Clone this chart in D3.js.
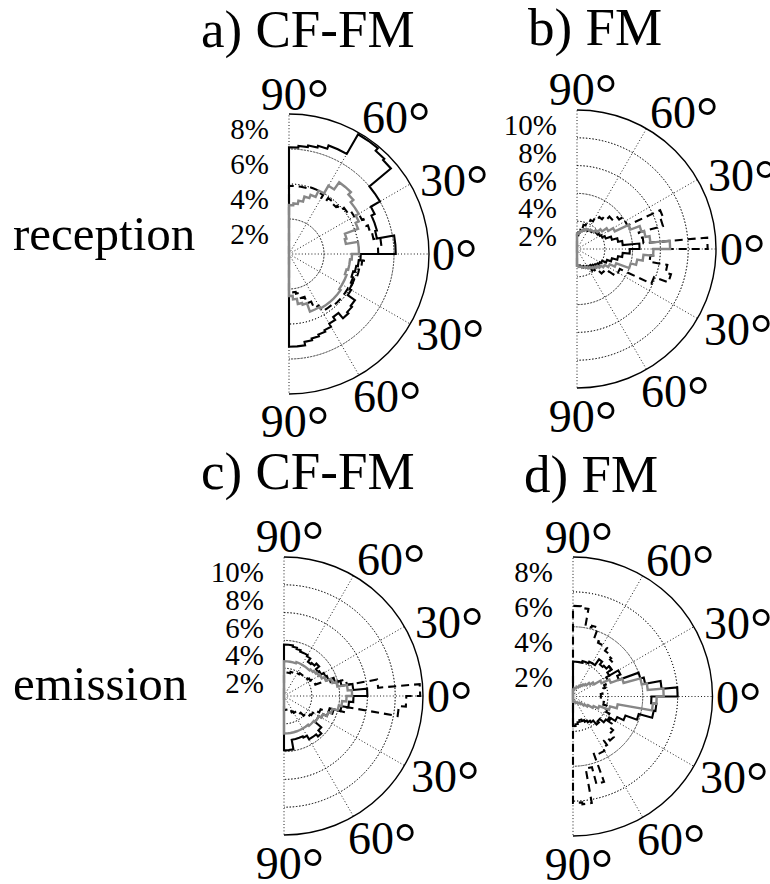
<!DOCTYPE html>
<html>
<head>
<meta charset="utf-8">
<script src="https://cdn.jsdelivr.net/npm/d3@7"></script>
<style>
  body { margin: 0; background: #fff; }
</style>
</head>
<body>
<div class="box"></div>
<script>
// DATA (percent per 5 deg bin, from +90 down to -90)

const binEdges = d3.range(90, -91, -5);
const ringTicks8 = [2, 4, 6, 8];
const ringTicks10 = [2, 4, 6, 8, 10];
const angleTicks = [90, 60, 30, 0, -30, -60, -90];

// a) CF-FM reception
const aSolid = [6.1, 6.2, 6.3, 6.4, 6.6, 6.6, 7.9, 7.9, 7.7, 7.6, 6.0, 6.0, 5.4, 5.2, 5.2, 5.1, 6.1, 6.1,
                4.1, 4.0, 3.9, 3.8, 3.9, 4.0, 4.1, 4.6, 4.7, 4.8, 4.4, 4.6, 4.8, 4.9, 5.0, 5.1, 5.3, 5.3];
const aDash  = [3.9, 3.9, 3.9, 4.0, 4.0, 3.9, 3.7, 3.9, 3.8, 3.9, 4.1, 4.3, 4.6, 4.7, 4.8, 4.9, 5.3, 5.1,
                4.3, 4.2, 4.1, 4.1, 4.0, 4.0, 3.9, 3.9, 3.9, 3.9, 3.8, 3.8, 3.4, 3.0, 2.6, 2.3, 2.2, 2.2];
const aGray  = [2.8, 2.9, 3.1, 3.4, 3.6, 4.0, 4.5, 5.0, 5.0, 4.8, 4.6, 4.6, 4.4, 4.2, 3.4, 3.3, 4.0, 4.0,
                3.6, 3.5, 3.5, 3.4, 3.5, 3.5, 3.5, 3.6, 3.6, 3.6, 3.6, 3.6, 3.5, 3.5, 3.0, 2.9, 2.6, 2.4];

// b) FM reception
const bSolid = [1.0, 1.2, 1.4, 1.4, 1.5, 1.5, 1.6, 1.6, 1.7, 1.8, 1.8, 1.9, 2.0, 2.2, 2.6, 3.0, 3.3, 4.5,
                3.8, 3.3, 3.0, 2.6, 2.3, 2.0, 1.9, 1.8, 1.7, 1.6, 1.5, 1.5, 1.4, 1.4, 1.3, 1.3, 1.2, 1.2];
const bDash  = [1.0, 1.2, 1.5, 1.8, 2.0, 2.3, 2.6, 2.8, 3.0, 3.3, 3.7, 3.9, 4.0, 6.6, 6.4, 4.6, 4.8, 9.4,
                5.5, 5.3, 6.6, 7.0, 5.9, 3.4, 3.2, 2.8, 2.5, 2.2, 1.9, 1.7, 1.5, 1.4, 1.3, 1.3, 1.2, 1.2];
const bGray  = [1.1, 1.2, 1.3, 1.4, 1.5, 1.6, 1.6, 1.7, 1.7, 1.9, 2.2, 2.6, 3.0, 4.1, 4.8, 5.0, 5.3, 6.7,
                5.5, 4.8, 4.4, 4.0, 3.0, 2.6, 2.3, 2.1, 1.9, 1.8, 1.7, 1.6, 1.5, 1.4, 1.4, 1.3, 1.3, 1.2];

// c) CF-FM emission
const cSolid = [3.7, 3.7, 3.6, 3.5, 3.4, 3.4, 3.3, 3.0, 3.1, 3.3, 3.0, 3.1, 3.3, 3.4, 3.8, 4.2, 5.0, 6.0,
                5.0, 4.7, 4.2, 3.7, 3.4, 3.1, 2.9, 2.9, 3.5, 3.8, 3.6, 3.6, 3.3, 3.2, 3.2, 3.2, 3.9, 3.9];
const cDash  = [1.6, 1.7, 1.7, 1.8, 1.8, 1.9, 1.9, 2.0, 2.0, 2.1, 2.1, 2.2, 2.3, 2.4, 3.5, 4.6, 6.8, 9.8,
                8.8, 8.3, 4.6, 3.4, 2.8, 2.5, 2.4, 2.3, 2.0, 1.7, 1.5, 1.4, 1.3, 1.2, 1.1, 1.1, 1.0, 1.0];
const cGray  = [2.5, 2.5, 2.5, 2.5, 2.6, 2.6, 2.6, 2.6, 2.6, 2.7, 2.8, 2.9, 3.0, 3.2, 3.6, 3.9, 4.6, 4.9,
                4.5, 4.2, 4.0, 3.6, 3.4, 3.1, 2.9, 2.9, 2.8, 2.8, 2.7, 2.7, 2.7, 2.7, 2.7, 2.7, 2.7, 2.7];

// d) FM emission
const dSolid = [2.0, 2.0, 2.0, 2.1, 2.1, 2.2, 2.2, 2.6, 2.4, 2.5, 2.7, 2.4, 3.0, 2.8, 4.0, 4.2, 5.1, 6.0,
                4.5, 4.8, 4.7, 3.9, 3.2, 2.8, 2.4, 2.3, 2.0, 2.1, 1.8, 1.7, 1.6, 1.5, 1.4, 1.5, 1.6, 1.7];
const dDash  = [5.2, 5.1, 4.1, 4.2, 3.5, 3.4, 3.4, 3.2, 3.1, 3.0, 2.7, 2.4, 2.2, 2.0, 1.9, 1.8, 1.7, 1.6,
                1.6, 1.7, 1.8, 2.0, 2.1, 2.3, 2.5, 2.7, 3.0, 3.3, 3.1, 3.4, 3.6, 3.5, 5.2, 4.2, 6.2, 6.1];
const dGray  = [0.4, 0.4, 0.5, 0.5, 0.6, 0.6, 0.7, 0.8, 0.9, 1.0, 1.2, 1.4, 1.8, 2.3, 3.0, 4.0, 4.3, 5.2,
                4.8, 4.6, 2.6, 2.2, 1.6, 1.3, 1.0, 0.8, 0.6, 0.5, 0.5, 0.4, 0.4, 0.4, 0.3, 0.3, 0.3, 0.3];

// SETUP

const width = 770, height = 884;
const serif = '"Liberation Serif", "Times New Roman", Times, "DejaVu Serif", serif';

const svg = d3.select('.box')
              .append('svg')
              .attr('width', width)
              .attr('height', height)
              .attr('font-family', serif)
              .style('font-family', serif);

svg.append('rect').attr('width', width).attr('height', height).attr('fill', '#fff');

const panels = [
  {title: 'a) CF-FM', tx: 201, ty: 47, cx: 289, cy: 254, R: 140, ticks: ringTicks8, series: [aSolid, aDash, aGray]},
  {title: 'b) FM', tx: 528, ty: 45, cx: 577, cy: 249, R: 139, ticks: ringTicks10, series: [bSolid, bDash, bGray]},
  {title: 'c) CF-FM', tx: 201, ty: 489, cx: 284, cy: 696, R: 139, ticks: ringTicks10, series: [cSolid, cDash, cGray]},
  {title: 'd) FM', tx: 524, ty: 492, cx: 573, cy: 696.5, R: 139.5, ticks: ringTicks8, series: [dSolid, dDash, dGray]}
];

// line styles for the three series
const styles = [
  {stroke: '#000', dash: null, w: 2.1},
  {stroke: '#000', dash: '8,5', w: 2.1},
  {stroke: '#878787', dash: null, w: 2.4}
];

// where each angle label sits (relative to the centre)
const angleLabelPos = {
  '90': [6, -144, 'middle'], '60': [73, -121, 'start'], '30': [131, -58, 'start'],
  '0': [143, 16, 'start'], '-30': [127, 96, 'start'], '-60': [64, 158, 'start'], '-90': [6, 183, 'middle']
};

// row labels
svg.append('text').attr('x', 13).attr('y', 250).attr('font-size', 49).text('reception');
svg.append('text').attr('x', 13).attr('y', 700).attr('font-size', 49).text('emission');

const toRad = d => d * Math.PI / 180;

panels.forEach(p => {
  const maxR = d3.max(p.ticks);
  const r = d3.scaleLinear().domain([0, maxR]).range([0, p.R]);
  // d3 radial angle: 0 = up, clockwise. our 90 = up, -90 = down
  const ang = d3.scaleLinear().domain([90, -90]).range([0, Math.PI]);

  const g = svg.append('g').attr('transform', `translate(${p.cx}, ${p.cy})`);

  // title
  svg.append('text')
     .attr('x', p.tx).attr('y', p.ty)
     .attr('font-size', 53)
     .text(p.title);

  // rings (dotted), outer one solid
  g.selectAll('.ring')
   .data(p.ticks.filter(t => t < maxR))
   .enter().append('path')
   .attr('d', d => d3.arc()({innerRadius: r(d), outerRadius: r(d), startAngle: 0, endAngle: Math.PI}))
   .attr('fill', 'none')
   .attr('stroke', '#000')
   .attr('stroke-width', 0.9)
   .attr('stroke-dasharray', '1,2.2');

  // spokes
  g.selectAll('.spoke')
   .data(angleTicks)
   .enter().append('line')
   .attr('x1', 0).attr('y1', 0)
   .attr('x2', d => p.R * Math.cos(toRad(d)))
   .attr('y2', d => -p.R * Math.sin(toRad(d)))
   .attr('stroke', '#000')
   .attr('stroke-width', 0.9)
   .attr('stroke-dasharray', '1,2.2');

  g.append('path')
   .attr('d', d3.arc()({innerRadius: p.R, outerRadius: p.R, startAngle: 0, endAngle: Math.PI}))
   .attr('fill', 'none')
   .attr('stroke', '#000')
   .attr('stroke-width', 1.4);

  // stair histograms, closed through the centre
  const line = d3.lineRadial()
                 .angle(d => ang(d[0]))
                 .radius(d => r(d[1]));

  p.series.forEach((vals, k) => {
    const pts = [[90, 0]];
    vals.forEach((v, i) => {
      pts.push([binEdges[i], v]);
      pts.push([binEdges[i + 1], v]);
    });
    pts.push([-90, 0]);
    g.append('path')
     .attr('d', line(pts) + 'Z')
     .attr('fill', 'none')
     .attr('stroke', styles[k].stroke)
     .attr('stroke-width', styles[k].w)
     .attr('stroke-linejoin', 'miter')
     .attr('stroke-dasharray', styles[k].dash);
  });

  // percent labels
  g.selectAll('.pct')
   .data(p.ticks)
   .enter().append('text')
   .attr('x', -20)
   .attr('y', d => -r(d) + 25)
   .attr('text-anchor', 'end')
   .attr('font-size', 29)
   .text(d => d + '%');

  // angle labels, with a larger degree ring like the original
  const lab = g.selectAll('.ang')
   .data(angleTicks)
   .enter().append('text')
   .attr('x', d => angleLabelPos[d][0])
   .attr('y', d => angleLabelPos[d][1])
   .attr('text-anchor', d => angleLabelPos[d][2])
   .attr('font-size', 46);
  lab.append('tspan').text(d => Math.abs(d));
  lab.append('tspan')
     .attr('font-size', 56)
     .attr('dy', 8)
     .text('°');
});
</script>
</body>
</html>
